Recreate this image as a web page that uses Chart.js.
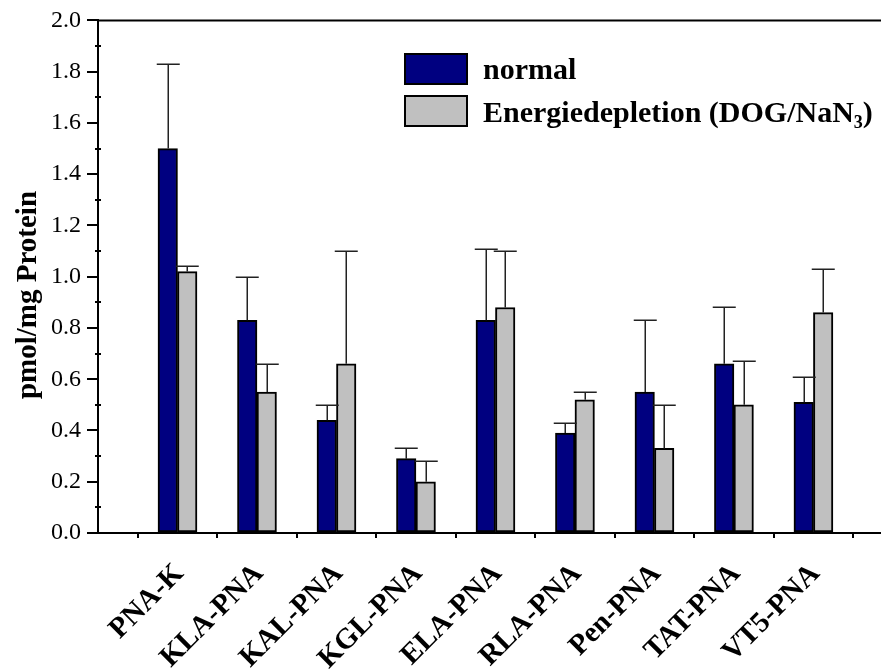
<!DOCTYPE html>
<html>
<head>
<meta charset="utf-8">
<script src="https://cdn.jsdelivr.net/npm/chart.js@4.4.0/dist/chart.umd.min.js"></script>
<style>
  html, body { margin: 0; padding: 0; background: #fff; }
  #wrap { width: 881px; height: 671px; }
</style>
</head>
<body>
<div id="wrap"><canvas id="chart"></canvas></div>
<script>
// Daten
const categories = ['PNA-K', 'KLA-PNA', 'KAL-PNA', 'KGL-PNA', 'ELA-PNA', 'RLA-PNA', 'Pen-PNA', 'TAT-PNA', 'VT5-PNA'];
const normalValues = [1.50, 0.83, 0.44, 0.29, 0.83, 0.39, 0.55, 0.66, 0.51];
const normalSD = [0.33, 0.17, 0.06, 0.04, 0.28, 0.04, 0.28, 0.22, 0.10];
const depletionValues = [1.02, 0.55, 0.66, 0.20, 0.88, 0.52, 0.33, 0.50, 0.86];
const depletionSD = [0.02, 0.11, 0.44, 0.08, 0.22, 0.03, 0.17, 0.17, 0.17];
const yTickValues = [0, 0.2, 0.4, 0.6, 0.8, 1.0, 1.2, 1.4, 1.6, 1.8, 2.0];
const yMinorValues = [0.1, 0.3, 0.5, 0.7, 0.9, 1.1, 1.3, 1.5, 1.7, 1.9];
const normalLabel = 'normal';
const depletionLabel = ['Energiedepletion (DOG/NaN', '3', ')']; // "3" tiefgestellt
const yTitle = 'pmol/mg Protein';

const FONT = "'Liberation Serif', 'Times New Roman', serif";

// Fehlerbalken (nur nach oben)
const errorBars = {
  id: 'errorBars',
  afterDatasetsDraw(chart) {
    const { ctx } = chart;
    const y = chart.scales.y;
    ctx.save();
    ctx.strokeStyle = '#222';
    ctx.lineWidth = 1.5;
    chart.data.datasets.forEach((ds, di) => {
      const meta = chart.getDatasetMeta(di);
      meta.data.forEach((bar, i) => {
        const top = Math.round(y.getPixelForValue(ds.data[i].y + ds.sd[i])) + 0.25;
        const x = Math.round(bar.x) + 0.25;
        ctx.beginPath();
        ctx.moveTo(x, bar.y);
        ctx.lineTo(x, top);
        ctx.moveTo(x - 11.5, top);
        ctx.lineTo(x + 11.5, top);
        ctx.stroke();
      });
    });
    ctx.restore();
  }
};

// Rahmen oben, kleine Ticks, Achsentitel, Legende
const decorations = {
  id: 'decorations',
  afterDraw(chart) {
    const { ctx, chartArea } = chart;
    const y = chart.scales.y;
    ctx.save();
    ctx.strokeStyle = '#000';
    ctx.lineWidth = 2;
    ctx.beginPath();
    ctx.moveTo(chartArea.left - 1, chartArea.top);
    ctx.lineTo(chartArea.right, chartArea.top);
    ctx.stroke();

    yMinorValues.forEach(v => {
      const py = Math.round(y.getPixelForValue(v));
      ctx.beginPath();
      ctx.moveTo(chartArea.left - 3, py);
      ctx.lineTo(chartArea.left + 3, py);
      ctx.stroke();
    });

    // y-Achsentitel
    ctx.fillStyle = '#000';
    ctx.font = 'bold 29px ' + FONT;
    ctx.textAlign = 'center';
    ctx.textBaseline = 'alphabetic';
    ctx.translate(36, 295);
    ctx.rotate(-Math.PI / 2);
    ctx.fillText(yTitle, 0, 0);
    ctx.setTransform(1, 0, 0, 1, 0, 0);

    // Legende
    const ds = chart.data.datasets;
    const boxes = [[405, 54], [405, 96]];
    boxes.forEach(([bx, by], i) => {
      ctx.fillStyle = ds[i].backgroundColor;
      ctx.fillRect(bx, by, 62, 30);
      ctx.strokeStyle = '#000';
      ctx.lineWidth = 2;
      ctx.strokeRect(bx, by, 62, 30);
    });
    ctx.fillStyle = '#000';
    ctx.textAlign = 'left';
    ctx.font = 'bold 30px ' + FONT;
    ctx.fillText(normalLabel, 483, 79);
    let tx = 483;
    ctx.fillText(depletionLabel[0], tx, 122);
    tx += ctx.measureText(depletionLabel[0]).width;
    ctx.font = 'bold 18px ' + FONT;
    ctx.fillText(depletionLabel[1], tx, 128);
    tx += ctx.measureText(depletionLabel[1]).width;
    ctx.font = 'bold 30px ' + FONT;
    ctx.fillText(depletionLabel[2], tx, 122);
    ctx.restore();
  }
};

const toPoints = vals => vals.map((v, i) => ({ x: i + 1, y: v }));

new Chart(document.getElementById('chart'), {
  type: 'bar',
  data: {
    datasets: [
      {
        label: normalLabel,
        data: toPoints(normalValues),
        sd: normalSD,
        backgroundColor: '#000080',
        borderColor: '#000',
        borderWidth: 2,
        borderSkipped: false,
        barThickness: 19.5
      },
      {
        label: depletionLabel.join(''),
        data: toPoints(depletionValues),
        sd: depletionSD,
        backgroundColor: '#c0c0c0',
        borderColor: '#000',
        borderWidth: 2,
        borderSkipped: false,
        barThickness: 19.5
      }
    ]
  },
  options: {
    responsive: true,
    maintainAspectRatio: false,
    animation: false,
    layout: { padding: { top: 20, right: 0, bottom: 0, left: 0 } },
    plugins: { legend: { display: false }, tooltip: { enabled: false } },
    scales: {
      x: {
        type: 'linear',
        min: 0,
        max: 9.85,
        offset: false,
        afterBuildTicks: s => {
          const t = [];
          categories.forEach((c, i) => { t.push({ value: i + 0.5 }); t.push({ value: i + 1 }); });
          t.push({ value: categories.length + 0.5 });
          s.ticks = t;
        },
        afterFit: s => { s.height = 138; s.paddingLeft = 0; s.paddingRight = 0; },
        grid: {
          offset: false,
          drawOnChartArea: false,
          tickLength: 5,
          lineWidth: 2,
          color: c => (c.tick && Number.isInteger(c.tick.value)) ? 'rgba(0,0,0,0)' : '#000'
        },
        border: { color: '#000', width: 2 },
        ticks: {
          autoSkip: false,
          minRotation: 45,
          maxRotation: 45,
          padding: 19,
          labelOffset: 2,
          color: '#000',
          font: { family: FONT, size: 29, weight: 'bold' },
          callback: v => Number.isInteger(v) ? (categories[v - 1] || '') : ''
        }
      },
      y: {
        min: 0,
        max: 2,
        afterBuildTicks: s => { s.ticks = yTickValues.map(v => ({ value: v })); },
        afterFit: s => { s.width = 98; },
        grid: { drawOnChartArea: false, tickLength: 11, lineWidth: 2, color: '#000' },
        border: { color: '#000', width: 2 },
        ticks: {
          padding: 6,
          color: '#000',
          font: { family: FONT, size: 24 },
          callback: v => v.toFixed(1)
        }
      }
    }
  },
  plugins: [errorBars, decorations]
});
</script>
</body>
</html>
